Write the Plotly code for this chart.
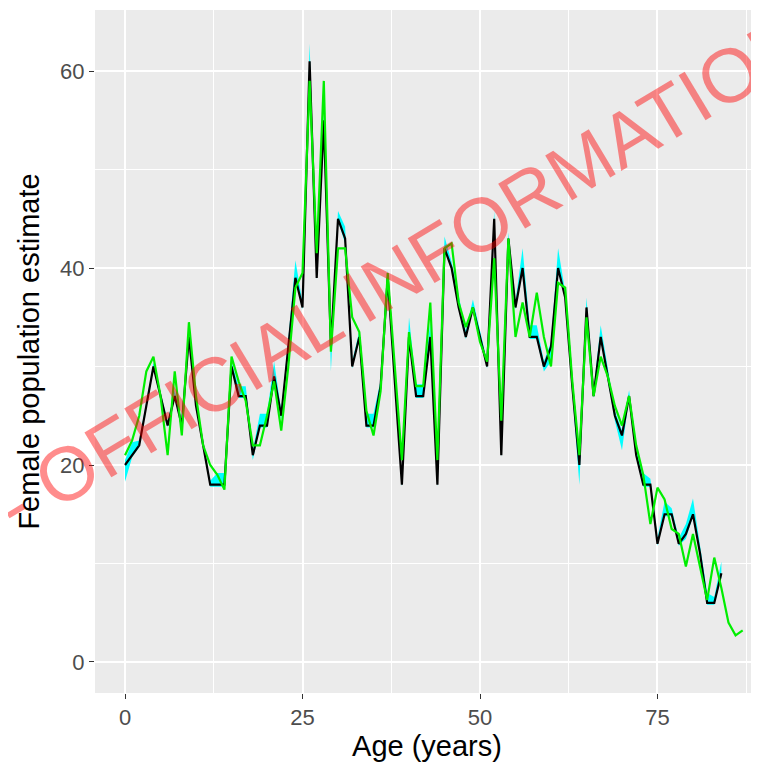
import plotly.graph_objects as go

ages_est = list(range(0, 85))
estimate = [20, 21, 22, 26, 30, 27, 24, 27, 24, 33,
            26, 22, 18, 18, 18, 30, 27, 27, 21, 24,
            24, 29, 25, 32, 39, 36, 61, 39, 55, 32,
            45, 43, 30, 33, 24, 24, 28, 39, 28, 18,
            33, 27, 27, 33, 18, 42, 40, 36, 33, 36,
            33, 30, 45, 21, 43, 36, 40, 33, 33, 30,
            32, 40, 37, 28, 20, 36, 27, 33, 29, 25,
            23, 27, 21, 18, 18, 12, 15, 15, 12, 13,
            15, 11, 6, 6, 9]
lower = [18.3, 20.8, 21.8, 25.8, 29.8, 26.8, 23.8, 26.8, 23.8, 32.8,
         25.8, 21.8, 17.8, 17.8, 17.8, 29.8, 26.8, 26.8, 20.5, 23.8,
         23.8, 28.8, 24.6, 31.8, 38.8, 35.8, 60.8, 38.8, 54.8, 29.5,
         44.8, 42.5, 29.8, 32.8, 23.8, 23.8, 27.8, 38.8, 27.8, 17.8,
         32.8, 26.8, 26.8, 32.8, 17.8, 41.8, 39.8, 35.8, 32.8, 35.8,
         32.8, 29.8, 44.8, 20.8, 42.8, 35.8, 39.8, 32.8, 32.8, 29.5,
         30.5, 39.8, 36.8, 27.8, 18.0, 35.8, 26.8, 32.8, 28.8, 24.5,
         21.5, 26.8, 20.8, 17.8, 17.8, 11.8, 14.8, 14.8, 11.8, 12.5,
         14.8, 10.8, 5.8, 5.8, 8.6]
upper = [20.5, 22.3, 22.5, 26.5, 30.4, 27.4, 24.4, 27.6, 24.5, 33.6,
         26.5, 22.3, 18.4, 19.2, 19.2, 30.5, 28.0, 28.0, 21.5, 25.2,
         25.2, 30.5, 25.5, 32.8, 40.8, 36.5, 62.8, 39.6, 55.6, 32.3,
         45.8, 44.2, 30.5, 33.6, 25.2, 25.2, 28.6, 39.8, 28.6, 18.6,
         35.0, 28.2, 28.2, 34.5, 18.8, 43.2, 40.6, 37.2, 33.6, 36.8,
         33.6, 30.5, 45.8, 21.6, 43.6, 36.6, 42.0, 34.2, 34.2, 30.5,
         32.5, 42.0, 37.6, 28.6, 20.4, 37.0, 27.6, 34.2, 29.8, 25.5,
         23.5, 27.6, 21.6, 19.2, 18.6, 12.6, 16.3, 15.6, 12.6, 14.0,
         16.6, 11.6, 7.0, 6.6, 10.2]

ages_alt = list(range(0, 88))
alternative = [21, 22.5, 25, 29.5, 31, 27, 21, 29.5, 23, 34.5,
               27, 22, 20, 19, 17.5, 31, 28.5, 26.5, 22, 22,
               25, 28.5, 23.5, 30, 38, 39.5, 59, 41.5, 59, 31.5,
               42, 42, 35, 33.5, 25.5, 23, 27.5, 39.5, 30, 20.5,
               33.5, 28, 28, 36.5, 20.5, 42, 42.5, 36.5, 34, 36,
               32.5, 30.5, 41, 24.5, 43, 33, 36.5, 33, 37.5, 33,
               30, 38.5, 38, 28.5, 21, 35, 27, 31, 29, 26,
               24, 27, 22, 19, 14, 17.7, 16.5, 13.5, 13, 9.7,
               13, 9.5, 6.3, 10.6, 7.5, 4, 2.7, 3.2]

x_ticks = [0, 25, 50, 75]
y_ticks = [0, 20, 40, 60]
x_title = "Age (years)"
y_title = "Female population estimate"
watermark = "- OFFICIAL INFORMATION -"

FONT = "Liberation Sans, Arial, sans-serif"

fig = go.Figure()
fig.add_trace(go.Scatter(x=ages_est, y=lower, mode="lines", line=dict(width=0),
                         showlegend=False, hoverinfo="skip"))
fig.add_trace(go.Scatter(x=ages_est, y=upper, mode="lines", line=dict(width=0),
                         fill="tonexty", fillcolor="#00ffff",
                         showlegend=False, hoverinfo="skip"))
fig.add_trace(go.Scatter(x=ages_est, y=estimate, mode="lines",
                         line=dict(color="black", width=2.2), showlegend=False))
fig.add_trace(go.Scatter(x=ages_alt, y=alternative, mode="lines",
                         line=dict(color="#00ee00", width=2.2), showlegend=False))

fig.add_annotation(text=watermark, xref="paper", yref="paper",
                   x=0.493, y=0.634, xanchor="center", yanchor="middle",
                   showarrow=False, textangle=-31,
                   font=dict(family=FONT, size=76, color="rgba(255,0,0,0.45)"))

axis_common = dict(showline=False, zeroline=False, ticks="outside", ticklen=5,
                   tickwidth=1.2, tickcolor="#333333", gridcolor="white",
                   gridwidth=1.6, automargin=False,
                   tickfont=dict(family=FONT, size=22, color="#4d4d4d"))

fig.update_xaxes(range=[-4.23, 89.3], tickvals=x_ticks,
                 minor=dict(dtick=12.5, tick0=0, showgrid=True, gridcolor="white",
                            gridwidth=0.7, ticks=""),
                 title=dict(text=x_title, standoff=8,
                            font=dict(family=FONT, size=29, color="black")),
                 **axis_common)
fig.update_yaxes(range=[-3.15, 66.2], tickvals=y_ticks,
                 minor=dict(dtick=10, tick0=0, showgrid=True, gridcolor="white",
                            gridwidth=0.7, ticks=""),
                 title=dict(text=y_title, standoff=11,
                            font=dict(family=FONT, size=29, color="black")),
                 **axis_common)

# the page body adds an 8px offset, so the figure is sized to end at the window edge
fig.update_layout(width=751, height=754, plot_bgcolor="#ebebeb",
                  paper_bgcolor="white",
                  margin=dict(l=87, r=0, t=2, b=69, autoexpand=False))

fig.write_html("out.html")
